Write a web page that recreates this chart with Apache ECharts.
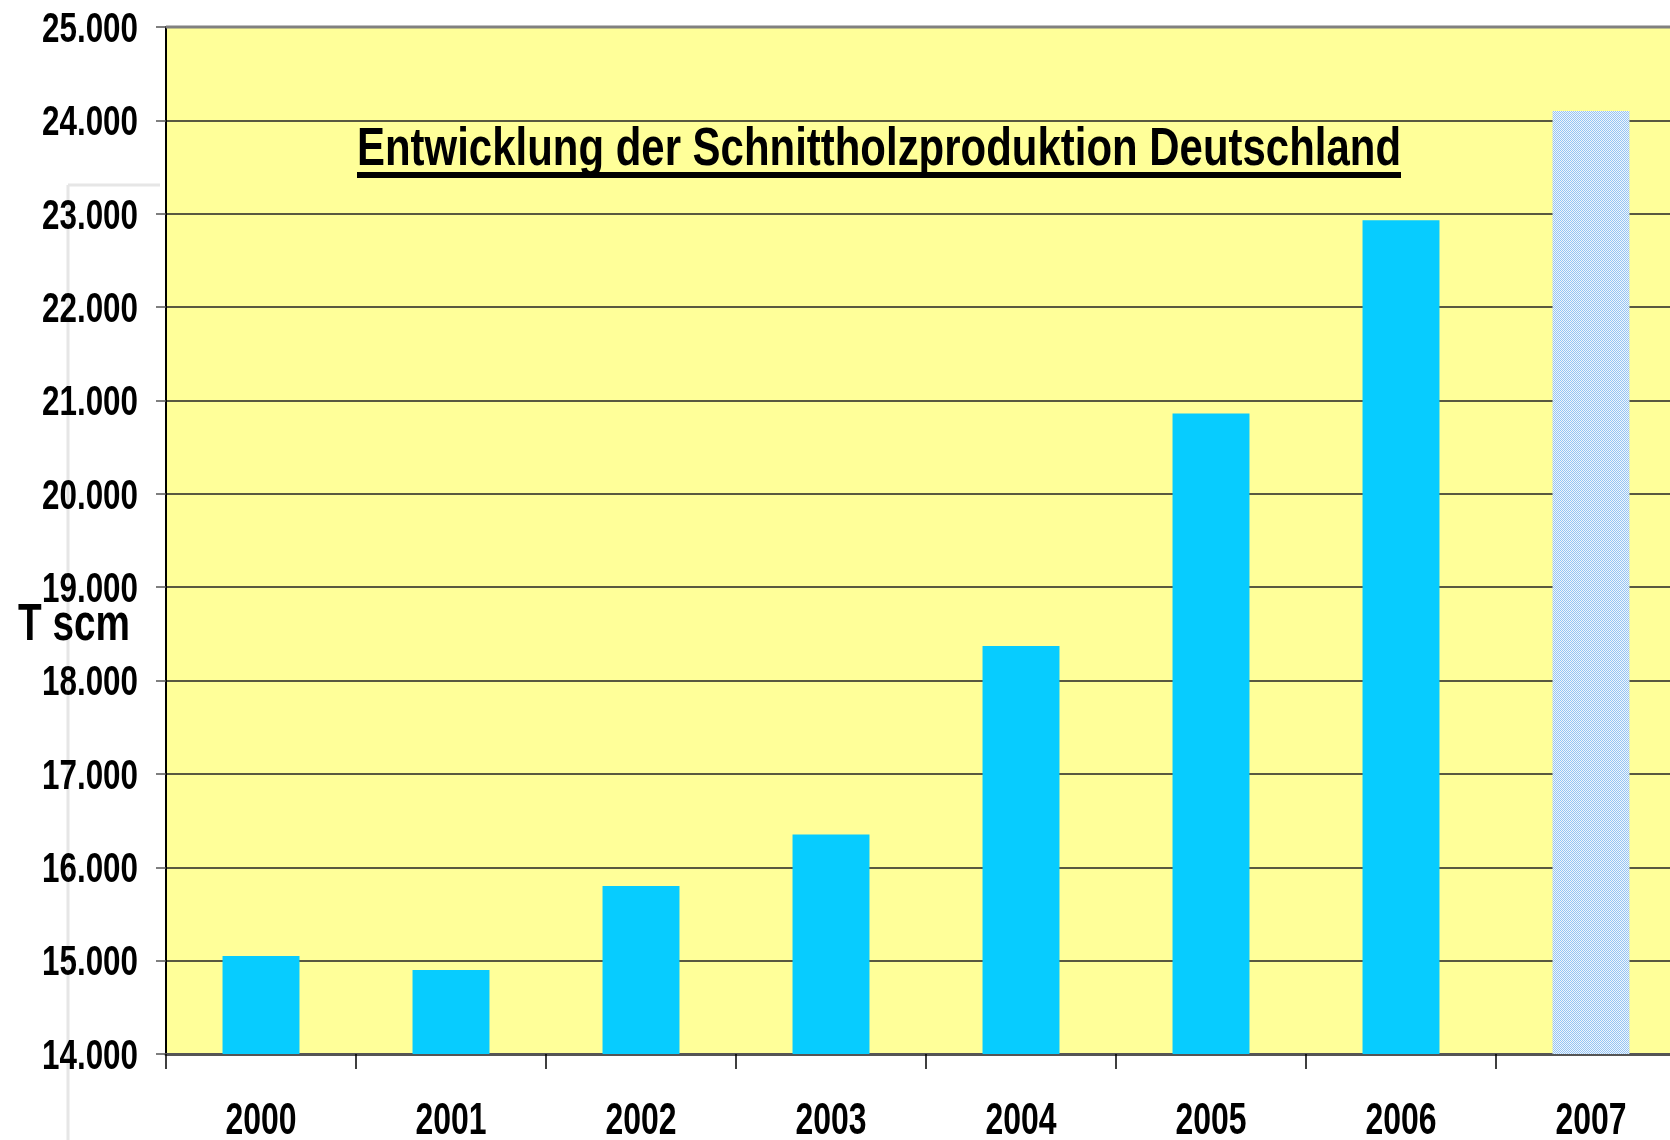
<!DOCTYPE html>
<html>
<head>
<meta charset="utf-8">
<script src="https://cdn.jsdelivr.net/npm/echarts@6/dist/echarts.min.js"></script>
<style>
html,body{margin:0;padding:0;background:#fff;}
#c{width:1670px;height:1140px;}
</style>
</head>
<body>
<div id="c"></div>
<script>
const years = ['2000','2001','2002','2003','2004','2005','2006','2007'];
const production = [15050, 14900, 15800, 16350, 18370, 20860, 22930, 24100];
const estimatedYear = '2007';
const yTicks = [14000, 15000, 16000, 17000, 18000, 19000, 20000, 21000, 22000, 23000, 24000, 25000];
const titleText = 'Entwicklung der Schnittholzproduktion Deutschland';
const unitLabel = 'T scm';

const FAM = "'Liberation Sans', Arial, sans-serif";
const mctx = document.createElement('canvas').getContext('2d');
function fitScale(text, size, target) {
  mctx.font = 'bold ' + size + 'px ' + FAM;
  return target / mctx.measureText(text).width;
}
const fmt = v => String(v).replace(/\B(?=(\d{3})+(?!\d))/g, '.');

// dithered pattern for the last (estimated) bar
const pat = document.createElement('canvas');
pat.width = 2; pat.height = 2;
const pc = pat.getContext('2d');
pc.fillStyle = '#f0f5fb'; pc.fillRect(0,0,2,2);
pc.fillStyle = '#94c4f4'; pc.fillRect(0,0,1,1); pc.fillRect(1,1,1,1);

const chart = echarts.init(document.getElementById('c'), null, {renderer:'canvas'});

const barData = years.map((y,i) => ({
  value: production[i],
  itemStyle: y === estimatedYear ? {color: {image: pat, repeat: 'repeat'}} : {color: '#07ccff'}
}));

chart.setOption({
  animation: false,
  backgroundColor: '#ffffff',
  grid: {left: 166, top: 27, right: -16, bottom: 86, outerBoundsMode: 'none', containLabel: false,
         show: true, backgroundColor: '#ffff99', borderWidth: 0},
  xAxis: {
    type: 'category',
    data: years,
    boundaryGap: true,
    axisLine: {show: true, lineStyle: {color: '#555', width: 3}},
    axisTick: {show: true, interval: 0, length: 15, lineStyle: {color: '#000', width: 1.5}},
    axisLabel: {show: false}
  },
  yAxis: {
    type: 'value',
    min: yTicks[0], max: yTicks[yTicks.length-1], interval: 1000,
    axisLine: {show: true, lineStyle: {color: '#000', width: 2}},
    axisTick: {show: true, length: 10, lineStyle: {color: '#555', width: 1.5}},
    splitLine: {show: true, lineStyle: {color: '#222', width: 1.5}},
    axisLabel: {show: false}
  },
  series: [{
    type: 'bar',
    data: barData,
    barWidth: '40.5%',
    z: 3
  }]
});

const g = [
  // faint slide-frame artefact at the left
  {type: 'line', shape: {x1: 68, y1: 185, x2: 68, y2: 1140}, style: {stroke: '#e6e6e6', lineWidth: 3}, z: 0},
  {type: 'line', shape: {x1: 68, y1: 185, x2: 160, y2: 185}, style: {stroke: '#e6e6e6', lineWidth: 3}, z: 0},
  // top border of plot area
  {type: 'line', shape: {x1: 166, y1: 27, x2: 1670, y2: 27}, style: {stroke: '#808080', lineWidth: 3}, z: 10}
];

// y tick labels
const ySize = 43, ySc = fitScale('25.000', ySize, 96);
yTicks.forEach(v => {
  const py = chart.convertToPixel({yAxisIndex: 0}, v);
  g.push({type: 'text', x: 138, y: py + 3, scaleX: ySc, z: 20,
          style: {text: fmt(v), font: 'bold ' + ySize + 'px ' + FAM, fill: '#000',
                  align: 'right', verticalAlign: 'middle'}});
});
// x category labels
const xSize = 44, xSc = fitScale('2000', xSize, 71);
years.forEach(y => {
  const px = chart.convertToPixel({xAxisIndex: 0}, y);
  g.push({type: 'text', x: px, y: 1122, scaleX: xSc, z: 20,
          style: {text: y, font: 'bold ' + xSize + 'px ' + FAM, fill: '#000',
                  align: 'center', verticalAlign: 'middle'}});
});
// unit label
const uSize = 52, uSc = fitScale(unitLabel, uSize, 112);
g.push({type: 'text', x: 18, y: 626, scaleX: uSc, z: 20,
        style: {text: unitLabel, font: 'bold ' + uSize + 'px ' + FAM, fill: '#000',
                align: 'left', verticalAlign: 'middle'}});
// title with underline
const tSize = 54, tSc = fitScale(titleText, tSize, 1044);
g.push({type: 'text', x: 357, y: 150, scaleX: tSc, z: 20,
        style: {text: titleText, font: 'bold ' + tSize + 'px ' + FAM, fill: '#000',
                align: 'left', verticalAlign: 'middle'}});
g.push({type: 'rect', shape: {x: 357, y: 172, width: 1044, height: 6}, style: {fill: '#000'}, z: 20});

chart.setOption({graphic: g});
</script>
</body>
</html>
